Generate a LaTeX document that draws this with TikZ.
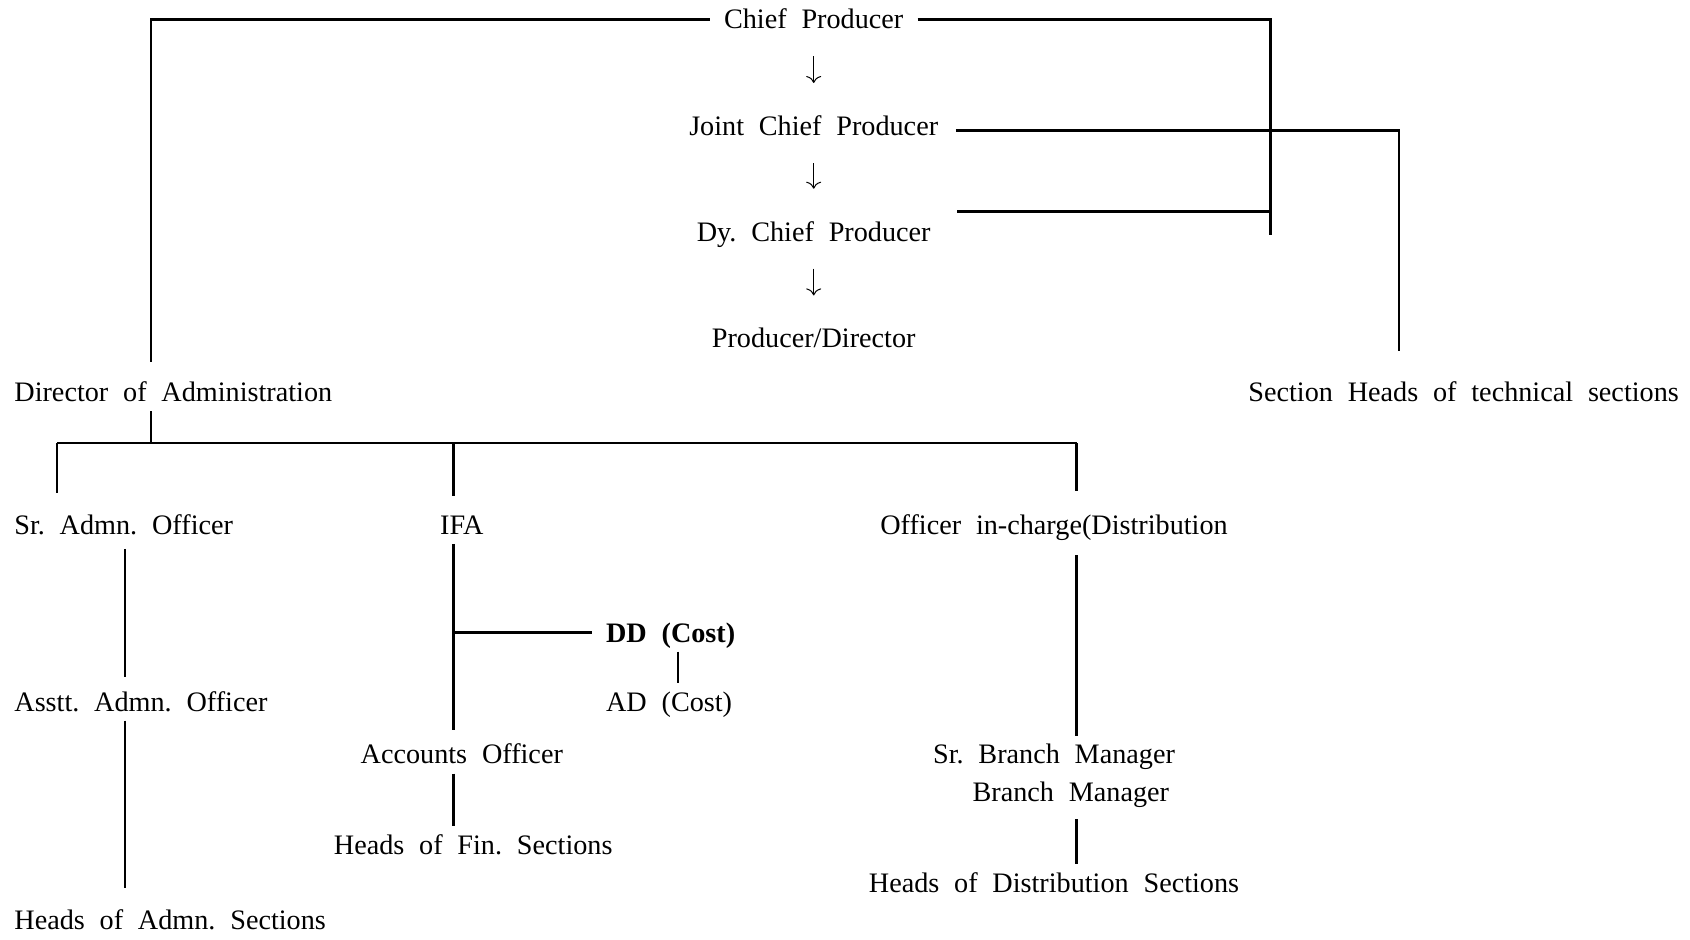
\documentclass[tikz,border=0pt]{standalone}
\usepackage{fontspec}
\setmainfont{Liberation Serif}[WordSpace=2.1]
\usetikzlibrary{arrows.meta}
\frenchspacing
\begin{document}
\begin{tikzpicture}[x=0.5pt,y=-0.5pt,
  lbl/.style={inner xsep=7pt,inner ysep=3pt,text height=11pt,text depth=1.6pt,
    font=\fontsize{14.1}{17}\selectfont},
  wire/.style={line width=1.25pt},
  flow/.style={-{To[length=3.5pt,width=7.5pt]},line width=0.5pt,shorten <=9pt,shorten >=12pt}]
  \useasboundingbox (0,0) rectangle (1690,939);

  \node[lbl] (cp) at (813.7, 19.4) {Chief Producer};
  \node[lbl] (jcp) at (813.7, 126) {Joint Chief Producer};
  \node[lbl] (dcp) at (813.7, 231.7) {Dy. Chief Producer};
  \node[lbl] (pd) at (813.7, 338.4) {Producer/Director};
  \node[lbl,anchor=west] (doa) at (0, 392.3) {Director of Administration};
  \node[lbl,anchor=west] (sht) at (1234, 392.3) {Section Heads of technical sections};
  \node[lbl,anchor=west] (sao) at (0, 524.9) {Sr. Admn. Officer};
  \node[lbl] (ifa) at (461.8, 524.9) {IFA};
  \node[lbl] (oic) at (1054, 524.9) {Officer in-charge(Distribution};
  \node[lbl,anchor=west] (dd) at (591.7, 632.7) {\bfseries DD (Cost)};
  \node[lbl,anchor=west] (ad) at (591.7, 701.6) {AD (Cost)};
  \node[lbl,anchor=west] (aao) at (0, 701.6) {Asstt. Admn. Officer};
  \node[lbl,anchor=west] (has) at (0, 920.4) {Heads of Admn. Sections};
  \node[lbl] (ao) at (461.8, 754.5) {Accounts Officer};
  \node[lbl] (hfs) at (473.2, 845) {Heads of Fin. Sections};
  \node[lbl] (sbm) at (1054, 754.5) {Sr. Branch Manager};
  \node[lbl] (bm) at (1070.8, 792.2) {Branch Manager};
  \node[lbl] (hds) at (1054, 882.7) {Heads of Distribution Sections};

  \coordinate (dtop) at (150.9, 362);
  \coordinate (rbot) at (1270.7, 235);
  \coordinate (tbot) at (1399, 351.4);
  \coordinate (busl) at (57.1, 443);
  \coordinate (busm) at (150.9, 443);
  \coordinate (busr) at (1076.7, 443);
  \coordinate (cola) at (125, 0);
  \coordinate (colb) at (453.7, 0);
  \coordinate (colc) at (1076.7, 0);
  \coordinate (cold) at (678, 0);

  \draw[flow] (cp) -- (jcp);
  \draw[flow] (jcp) -- (dcp);
  \draw[flow] (dcp) -- (pd);

  \draw[wire] (cp.west) -| (dtop);
  \draw[wire] (cp.east) -| (rbot);
  \draw[wire] ([xshift=1.6pt,yshift=-2.2pt]jcp.east) -| (tbot);
  \draw[wire] ([xshift=6.2pt,yshift=10.2pt]dcp.east) -- ([yshift=10.2pt]dcp.east -| rbot);

  \draw[wire] (doa.south -| busm) -- (busm);
  \draw[wire] (busl) -- (busr);
  \draw[wire,shorten >=6.5pt] (busl) -- (sao.north -| busl);
  \draw[wire,shorten >=5.2pt] (colb |- busl) -- (ifa.north -| colb);
  \draw[wire,shorten >=7.5pt] (busr) -- (oic.north -| busr);

  \draw[wire,shorten <=2.5pt,shorten >=3pt] (sao.south -| cola) -- (aao.north -| cola);
  \draw[wire,shorten >=6.8pt] (aao.south -| cola) -- (has.north -| cola);
  \draw[wire,shorten >=3pt] (ifa.south -| colb) -- (ao.north -| colb);
  \draw[wire] (dd.west) -- (dd.west -| colb);
  \draw[wire] (dd.south -| cold) -- (ad.north -| cold);
  \draw[wire] (ao.south -| colb) -- (hfs.north -| colb);
  \draw[wire,shorten <=5.7pt] (oic.south -| colc) -- (sbm.north -| colc);
  \draw[wire,shorten <=4pt] (bm.south -| colc) -- (hds.north -| colc);
\end{tikzpicture}
\end{document}
